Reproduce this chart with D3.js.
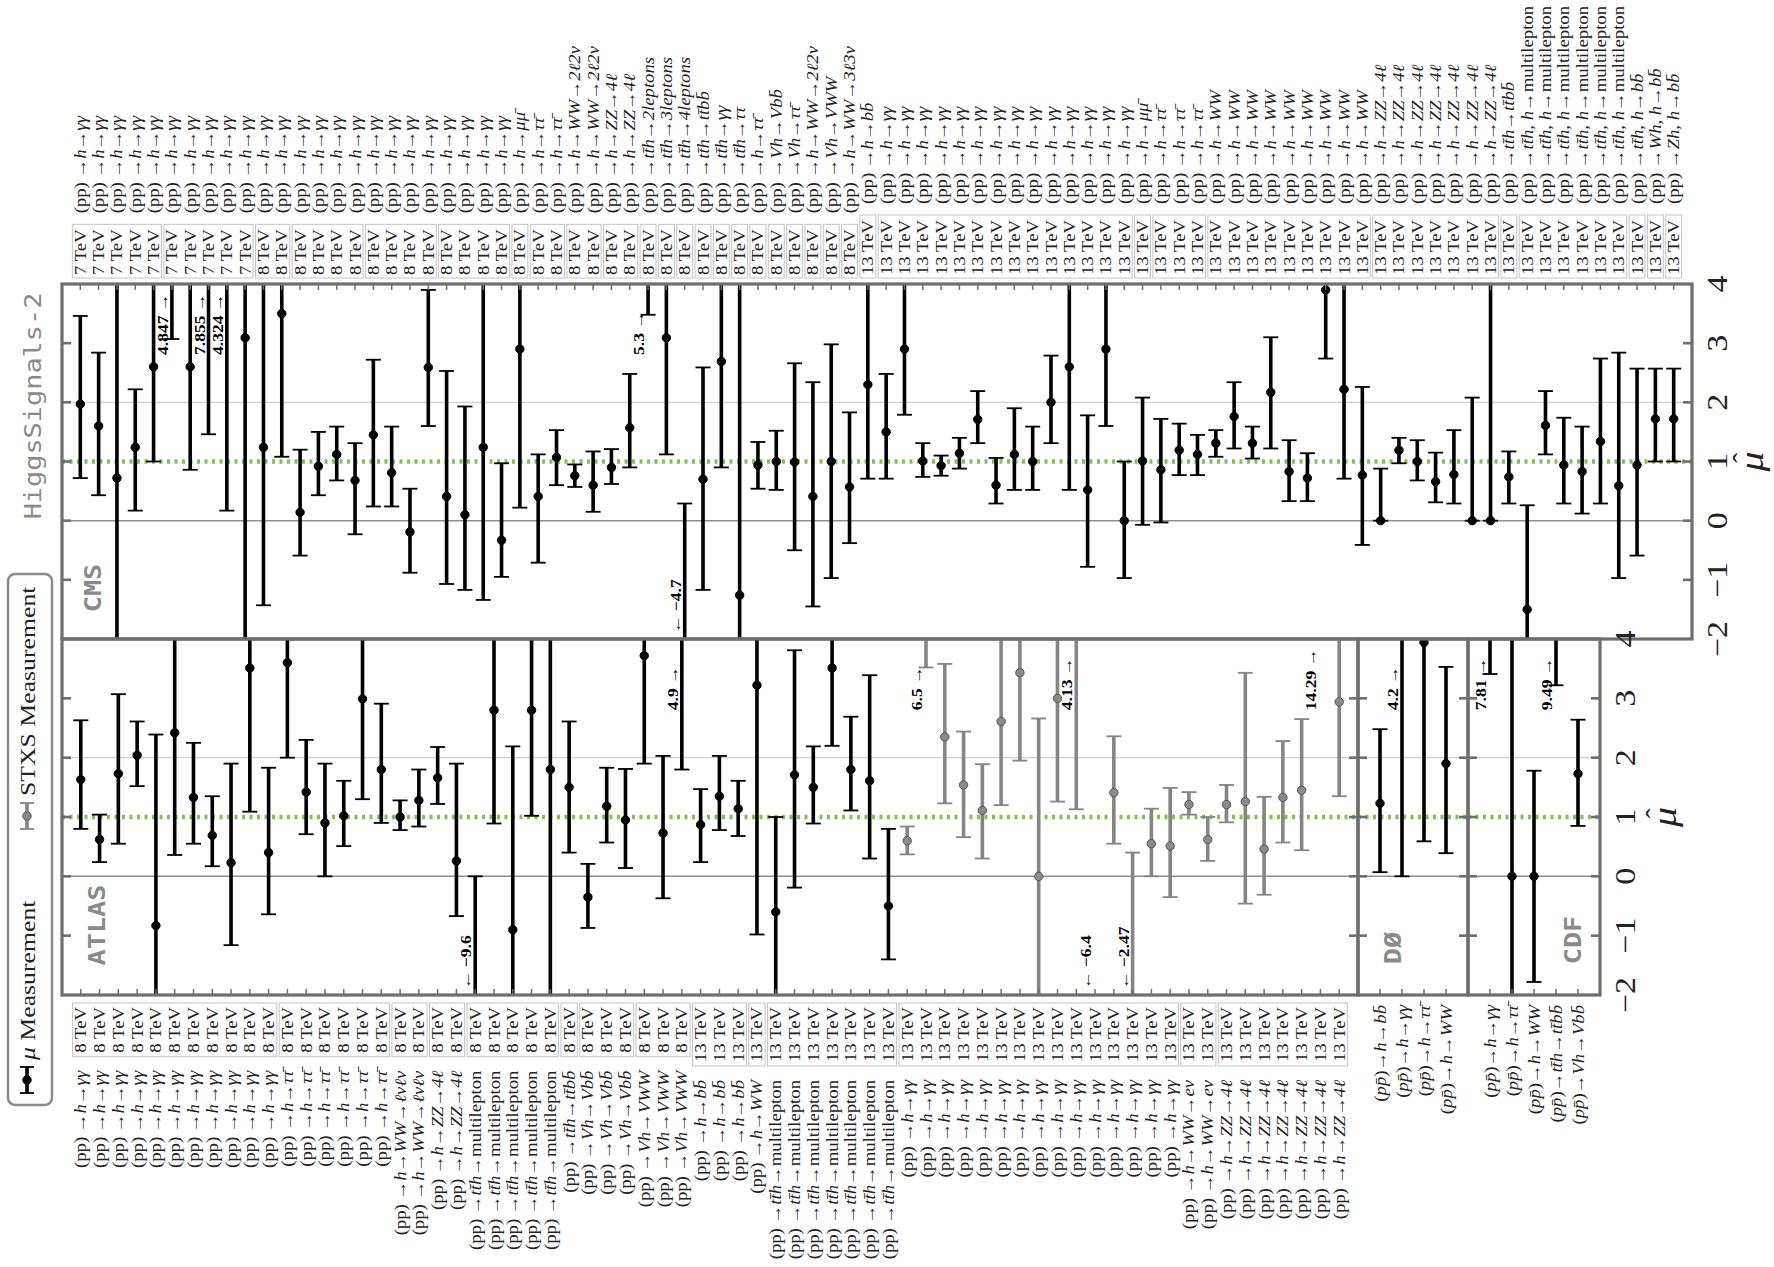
<!DOCTYPE html>
<html>
<head>
<meta charset="utf-8">
<script src="https://cdn.jsdelivr.net/npm/d3@7"></script>
<style>
  body { margin: 0; background: #fff; }
  svg { display: block; }
</style>
</head>
<body>
<svg id="chart" width="1774" height="1267"></svg>
<script>
const rep = (s, n) => Array(n).fill(s);

// ---- CMS (top panel) ----
const cmsEnergy = [...rep("7 TeV", 10), ...rep("8 TeV", 33), ...rep("13 TeV", 45)];
const cmsProcess = [
  ...rep("h→γγ", 24), "h→μμ̄", ...rep("h→ττ̄", 2), ...rep("h→WW→2ℓ2ν", 2), ...rep("h→ZZ→4ℓ", 2),
  "tt̄h→2leptons", "tt̄h→3leptons", "tt̄h→4leptons", "tt̄h→tt̄bb̄", "tt̄h→γγ", "tt̄h→ττ",
  "h→ττ̄", "Vh→Vbb̄", "Vh→ττ̄", "h→WW→2ℓ2ν", "Vh→VWW", "h→WW→3ℓ3ν",
  "h→bb̄", ...rep("h→γγ", 14), "h→μμ̄", ...rep("h→ττ̄", 3), ...rep("h→WW", 9), ...rep("h→ZZ→4ℓ", 7),
  "tt̄h→tt̄bb̄", ...rep("tt̄h, h→multilepton", 6), "tt̄h, h→bb̄", "Wh, h→bb̄", "Zh, h→bb̄"
];
// extra bracket breaks inside runs of identical labels (first index of a new bracket)
const cmsBreaks = [5, 12, 16, 20];
const cmsMu = [1.97,1.6,0.72,1.24,2.6,4.847,2.6,7.855,4.324,3.09, 1.24,3.5,0.14,0.92,1.12,0.68,1.45,0.81,-0.19,2.59,
  0.41,0.1,1.24,-0.33,2.9,0.41,1.07,0.76,0.6,0.9, 1.57,5.3,3.09,-4.7,0.7,2.69,-1.26,0.94,1.0,0.99,
  0.41,1.0,0.57,2.3,1.5,2.9,1.01,0.93,1.14,1.71, 0.6,1.12,1.0,2.0,2.6,0.52,2.9,0.0,1.01,0.86,
  1.19,1.12,1.31,1.76,1.31,2.17,0.83,0.72,3.9,2.22, 0.77,0.0,1.19,1.0,0.66,0.78,0.0,0.0,0.74,-1.5,
  1.61,0.94,0.83,1.34,0.59,0.94,1.72,1.72];
const cmsLo = [0.72,0.43,-2.6,0.17,1.0,3.07,0.86,1.46,0.17,-2.5, -1.43,1.08,-0.59,0.43,0.68,-0.23,0.24,0.24,-0.88,1.6,
  -1.07,-1.17,-1.34,-0.95,0.22,-0.71,0.6,0.57,0.15,0.62, 0.9,3.48,1.12,-6,-1.17,0.9,-6,0.54,0.52,-0.5,
  -1.45,-0.97,-0.38,0.71,0.71,1.79,0.74,0.76,0.88,1.31, 0.29,0.52,0.52,1.31,0.52,-0.78,1.6,-0.97,-0.07,-0.03,
  0.77,0.77,1.08,1.22,1.05,1.22,0.33,0.33,2.74,0.71, -0.41,0.0,0.97,0.68,0.31,0.29,0.0,0.0,0.29,-2.6,
  1.12,0.29,0.12,0.29,-0.97,-0.59,1.0,1.0];
const cmsHi = [3.46,2.84,4.5,2.22,4.4,6.5,4.6,11,7,5, 4.5,4.4,1.2,1.5,1.59,1.31,2.72,1.59,0.54,3.9,
  2.53,1.93,4.3,0.97,4.5,1.12,1.53,0.95,1.17,1.21, 2.48,7.4,5.4,0.29,2.59,5.3,5,1.33,1.52,2.66,
  2.34,2.98,1.83,4.2,2.48,4.1,1.31,1.1,1.4,2.19, 1.06,1.9,1.59,2.79,4.5,1.78,4.4,1.0,2.08,1.72,
  1.64,1.45,1.53,2.34,1.59,3.1,1.36,1.14,5,4.4, 2.26,0.88,1.4,1.36,1.15,1.53,2.08,4.8,1.17,0.26,
  2.19,1.74,1.59,2.74,2.84,2.57,2.57,2.57];

// ---- ATLAS (bottom left panel) ----
const atlasEnergy = [...rep("8 TeV", 33), ...rep("13 TeV", 35)];
const atlasProcess = [
  ...rep("h→γγ", 11), ...rep("h→ττ̄", 6), ...rep("h→WW→ℓνℓν", 2), ...rep("h→ZZ→4ℓ", 2),
  ...rep("tt̄h→multilepton", 5), "tt̄h→tt̄bb̄", ...rep("Vh→Vbb̄", 3), ...rep("Vh→VWW", 3),
  ...rep("h→bb̄", 3), "h→WW", ...rep("tt̄h→multilepton", 7), ...rep("h→γγ", 15),
  ...rep("h→WW→eν", 2), ...rep("h→ZZ→4ℓ", 7)
];
const atlasBreaks = [];
const atlasStxs = [...rep(0, 44), ...rep(1, 24)];
const atlasMu = [1.63,0.62,1.73,2.04,-0.83,2.42,1.33,0.69,0.23,3.51, 0.4,3.6,1.42,0.9,1.02,2.99,1.8,1.0,1.28,1.66,
  0.26,-9.6,2.8,-0.9,2.8,1.8,1.5,-0.35,1.18,0.95, 3.72,0.73,4.9,0.87,1.35,1.14,3.22,-0.6,1.71,1.5,
  3.51,1.8,1.61,-0.5,0.6,6.5,2.35,1.54,1.11,2.61, 3.43,0.0,3.0,4.13,-6.4,1.41,-2.47,0.55,0.51,1.21,
  0.62,1.21,1.26,0.46,1.33,1.45,14.29,2.94];
const atlasLo = [0.8,0.24,0.55,1.52,-2.6,0.36,0.55,0.17,-1.16,1.09, -0.64,2.0,0.71,0.0,0.51,1.3,0.9,0.78,0.84,1.22,
  -0.67,-16,0.89,-2.7,1.02,-2.8,0.4,-0.87,0.57,0.14, 1.9,-0.37,1.8,0.24,0.78,0.68,-0.98,-2.6,-0.19,0.89,
  2.2,1.11,0.3,-1.4,0.37,3.52,1.23,0.66,0.3,1.2, 1.95,-2.5,1.26,1.13,-9,0.55,-5,0.0,-0.35,1.04,
  0.26,0.91,-0.46,-0.31,0.57,0.44,6,1.35];
const atlasHi = [2.63,1.04,3.07,2.61,2.39,4.5,2.25,1.35,1.9,5.5, 1.83,5,2.3,1.9,1.61,4.6,2.91,1.28,1.8,2.18,
  1.9,0.0,4.6,2.19,4.6,4.5,2.61,0.21,1.83,1.81, 5.5,2.03,8,1.47,2.03,1.61,5.4,1.0,3.81,2.19,
  4.8,2.69,3.39,0.8,0.84,9.5,3.58,2.44,1.89,4.1, 4.9,2.66,4.8,7,-3,2.36,0.4,1.14,1.49,1.42,
  1.0,1.54,3.43,1.34,2.28,2.65,22,4.5];

// ---- Tevatron ----
const d0Process = ["h→bb̄", "h→γγ", "h→ττ̄", "h→WW"];
const d0Mu = [1.23, 4.2, 3.94, 1.9];
const d0Lo = [0.07, 0.0, 0.59, 0.39];
const d0Hi = [2.48, 8.0, 5.0, 3.53];
const cdfProcess = ["h→γγ", "h→ττ̄", "h→WW", "tt̄h→tt̄bb̄", "Vh→Vbb̄"];
const cdfMu = [7.81, 0.0, 0.0, 9.49, 1.73];
const cdfLo = [3.41, -2.6, -1.78, 3.22, 0.85];
const cdfHi = [12, 4.5, 1.78, 16, 2.64];

const muTicks = [-2, -1, 0, 1, 2, 3, 4];

// ---------------------------------------------------------------
const TS = 1.17;           // the original figure is stretched along the text direction
const SERIF = "'Liberation Serif', 'DejaVu Serif', serif";
const MONO = "'DejaVu Sans Mono', 'Liberation Mono', monospace";
const FRAME = "#6e6e6e";
const minus = v => String(v).replace("-", "−");

const svg = d3.select("#chart");
const yTop = d3.scaleLinear().domain([-2, 4]).range([639, 284]);
const yBot = d3.scaleLinear().domain([-2, 4]).range([995, 639]);

function rot(sel, x, y) {
  return sel.attr("transform", `translate(${x},${y}) rotate(-90) scale(${TS},1)`);
}

function addLabel(g, x, y, anchor, lhc, proc) {
  const t = rot(g.append("text"), x, y)
    .attr("text-anchor", anchor).attr("dominant-baseline", "central")
    .style("font-family", SERIF).style("font-size", "16px").attr("fill", "#222");
  if (lhc) {
    t.append("tspan").text("(pp) →");
  } else {
    t.append("tspan").text("(");
    t.append("tspan").style("font-style", "italic").text("pp̄");
    t.append("tspan").text(")→");
  }
  proc.split(/(multilepton)/).filter(s => s).forEach(s => {
    t.append("tspan").style("font-style", s === "multilepton" ? "normal" : "italic").text(s);
  });
  return t;
}

const panels = [
  { name: "CMS", x0: 62, x1: 1692, y: yTop, mu: cmsMu, lo: cmsLo, hi: cmsHi, energy: cmsEnergy, proc: cmsProcess,
    breaks: cmsBreaks, side: "top", tag: [93, 588] },
  { name: "ATLAS", x0: 62, x1: 1358, y: yBot, mu: atlasMu, lo: atlasLo, hi: atlasHi, energy: atlasEnergy, proc: atlasProcess,
    breaks: atlasBreaks, stxs: atlasStxs, side: "bottom", tag: [97, 925] },
  { name: "DØ", x0: 1358, x1: 1468, y: yBot, mu: d0Mu, lo: d0Lo, hi: d0Hi, proc: d0Process,
    side: "bottom", tag: [1393, 948] },
  { name: "CDF", x0: 1468, x1: 1600, y: yBot, mu: cdfMu, lo: cdfLo, hi: cdfHi, proc: cdfProcess,
    side: "bottom", tag: [1573, 940] }
];

panels.forEach((p, pi) => {
  const n = p.mu.length;
  const x = d3.scaleLinear().domain([0, n + 1]).range([p.x0, p.x1]);
  const y = p.y;
  const [yb, yt] = y.range();
  const step = x(1) - x(0);
  const g = svg.append("g");

  const clipId = "clip" + pi;
  svg.append("clipPath").attr("id", clipId)
    .append("rect").attr("x", p.x0).attr("y", yt).attr("width", p.x1 - p.x0).attr("height", yb - yt);
  const inner = g.append("g").attr("clip-path", `url(#${clipId})`);

  // reference lines
  inner.append("line").attr("x1", p.x0).attr("x2", p.x1).attr("y1", y(2)).attr("y2", y(2))
    .attr("stroke", "#cfcfcf").attr("stroke-width", 1.3);
  inner.append("line").attr("x1", p.x0).attr("x2", p.x1).attr("y1", y(0)).attr("y2", y(0))
    .attr("stroke", "#8f8f8f").attr("stroke-width", 1.5);
  inner.append("line").attr("x1", p.x0).attr("x2", p.x1).attr("y1", y(1)).attr("y2", y(1))
    .attr("stroke", "#84c052").attr("stroke-width", 4.5).attr("stroke-dasharray", "3,4.5");

  const idx = d3.range(n);
  const col = i => (p.stxs && p.stxs[i]) ? "#858585" : "#000";

  // error bars
  inner.selectAll(".bar").data(idx).join("line").attr("class", "bar")
    .attr("x1", i => x(i + 1)).attr("x2", i => x(i + 1))
    .attr("y1", i => y(p.lo[i])).attr("y2", i => y(p.hi[i]))
    .attr("stroke", col).attr("stroke-width", 3.6);
  ["lo", "hi"].forEach(k => {
    inner.selectAll(".cap-" + k).data(idx).join("line").attr("class", "cap-" + k)
      .attr("x1", i => x(i + 1) - 7.5).attr("x2", i => x(i + 1) + 7.5)
      .attr("y1", i => y(p[k][i])).attr("y2", i => y(p[k][i]))
      .attr("stroke", col).attr("stroke-width", 1.8);
  });
  inner.selectAll(".dot").data(idx.filter(i => p.mu[i] >= -2 && p.mu[i] <= 4)).join("circle").attr("class", "dot")
    .attr("cx", i => x(i + 1)).attr("cy", i => y(p.mu[i])).attr("r", 4.2)
    .attr("fill", i => (p.stxs && p.stxs[i]) ? "#8a8a8a" : "#000")
    .attr("stroke", i => (p.stxs && p.stxs[i]) ? "#555" : "#000").attr("stroke-width", 1);

  // frame
  g.append("rect").attr("x", p.x0).attr("y", yt).attr("width", p.x1 - p.x0).attr("height", yb - yt)
    .attr("fill", "none").attr("stroke", FRAME).attr("stroke-width", 3.2);

  // mu ticks on both vertical borders
  muTicks.slice(1, -1).forEach(t => {
    g.append("line").attr("x1", p.x0).attr("x2", p.x0 + 9).attr("y1", y(t)).attr("y2", y(t))
      .attr("stroke", FRAME).attr("stroke-width", 2.6);
    g.append("line").attr("x1", p.x1 - 9).attr("x2", p.x1).attr("y1", y(t)).attr("y2", y(t))
      .attr("stroke", FRAME).attr("stroke-width", 2.6);
  });

  // category ticks on the label side
  const ty = p.side === "top" ? yt : yb;
  const dir = p.side === "top" ? 1 : -1;
  g.selectAll(".ctick").data(idx).join("line").attr("class", "ctick")
    .attr("x1", i => x(i + 1)).attr("x2", i => x(i + 1))
    .attr("y1", ty).attr("y2", ty + dir * 6).attr("stroke", FRAME).attr("stroke-width", 1.5);

  // off-scale values
  idx.forEach(i => {
    const v = p.mu[i];
    if (v <= 4 && v >= -2) return;
    const hiSide = v > 4;
    rot(g.append("text"), x(i + 1) - 9, hiSide ? y(2.8) : y(-1.9))
      .attr("text-anchor", "start").attr("dominant-baseline", "central")
      .style("font-family", SERIF).style("font-size", "15px").style("font-weight", "bold")
      .text(hiSide ? `${minus(v)} →` : `← ${minus(v)}`);
  });

  // panel name
  rot(g.append("text"), p.tag[0], p.tag[1])
    .attr("text-anchor", "middle").attr("dominant-baseline", "central")
    .style("font-family", MONO).style("font-size", "23px").style("font-weight", "bold")
    .attr("fill", "#8a8a8a").text(p.name);

  // category labels
  if (p.energy) {
    const base = p.side === "top" ? yt - 9 : yb + 12;
    const eLen = [];
    idx.forEach(i => {
      const t = rot(g.append("text"), x(i + 1), base)
        .attr("text-anchor", p.side === "top" ? "start" : "end").attr("dominant-baseline", "central")
        .style("font-family", SERIF).style("font-size", "16px").attr("fill", "#222").text(p.energy[i]);
      eLen[i] = t.node().getComputedTextLength() * TS;
    });
    // brackets around runs of the same energy and process
    const runs = [];
    idx.forEach(i => {
      const last = runs[runs.length - 1];
      if (last && p.energy[last.a] === p.energy[i] && p.proc[last.a] === p.proc[i] && !p.breaks.includes(i)) last.b = i;
      else runs.push({ a: i, b: i });
    });
    runs.forEach(r => {
      const len = d3.max(d3.range(r.a, r.b + 1), i => eLen[i]) + 5;
      const xa = x(r.a + 1) - step / 2 + 1.2, xb = x(r.b + 1) + step / 2 - 1.2;
      const ya = p.side === "top" ? yt - 6 : yb + 8;
      const yz = p.side === "top" ? ya - len - 3 : ya + len + 3;
      g.append("rect").attr("x", xa).attr("y", Math.min(ya, yz)).attr("width", xb - xa).attr("height", Math.abs(yz - ya))
        .attr("fill", "none").attr("stroke", "#c4c4c4").attr("stroke-width", 1);
    });
    idx.forEach(i => {
      if (p.side === "top") addLabel(g, x(i + 1), base - eLen[i] - 16, "start", true, p.proc[i]);
      else addLabel(g, x(i + 1), base + eLen[i] + 18, "end", true, p.proc[i]);
    });
  } else {
    idx.forEach(i => addLabel(g, x(i + 1), yb + 10, "end", false, p.proc[i]));
  }
});

// mu axis tick labels and titles
[[yTop, 1717, 1752], [yBot, 1625, 1665]].forEach(([y, tx, lx]) => {
  muTicks.forEach(t => {
    rot(svg.append("text"), tx, y(t)).attr("text-anchor", "middle").attr("dominant-baseline", "central")
      .style("font-family", SERIF).style("font-size", "29px").attr("fill", "#222").text(minus(t));
  });
  const tg = rot(svg.append("g"), lx, y(1));
  tg.append("text").attr("text-anchor", "middle").attr("dominant-baseline", "central")
    .style("font-family", SERIF).style("font-size", "34px").style("font-style", "italic").attr("fill", "#222").text("μ");
  tg.append("text").attr("x", 3).attr("y", -10).attr("text-anchor", "middle").attr("dominant-baseline", "central")
    .style("font-family", SERIF).style("font-size", "26px").attr("fill", "#222").text("ˆ");
});

// HiggsSignals-2 tag
rot(svg.append("text"), 33, 406).attr("text-anchor", "middle").attr("dominant-baseline", "central")
  .style("font-family", MONO).style("font-size", "23px").attr("fill", "#8a8a8a").text("HiggsSignals-2");

// legend
const lg = svg.append("g");
lg.append("rect").attr("x", 8).attr("y", 574).attr("width", 44).attr("height", 531).attr("rx", 7)
  .attr("fill", "#fff").attr("stroke", "#8a8a8a").attr("stroke-width", 2.5);
[{ y: 1080, col: "#000", dot: "#000", ty: 1060, label: "Measurement", mu: true },
 { y: 816, col: "#858585", dot: "#8a8a8a", ty: 796, label: "STXS Measurement", mu: false }].forEach(e => {
  lg.append("line").attr("x1", 27).attr("x2", 27).attr("y1", e.y - 13).attr("y2", e.y + 13)
    .attr("stroke", e.col).attr("stroke-width", 3.6);
  [e.y - 13, e.y + 13].forEach(c => lg.append("line").attr("x1", 20).attr("x2", 34).attr("y1", c).attr("y2", c)
    .attr("stroke", e.col).attr("stroke-width", 1.8));
  lg.append("circle").attr("cx", 27).attr("cy", e.y).attr("r", 4.2).attr("fill", e.dot).attr("stroke", e.mu ? "#000" : "#555");
  const t = rot(lg.append("text"), 28, e.ty).attr("text-anchor", "start").attr("dominant-baseline", "central")
    .style("font-family", SERIF).style("font-size", "22px").attr("fill", "#222");
  if (e.mu) { t.append("tspan").style("font-style", "italic").text("μ "); }
  t.append("tspan").text(e.label);
});
</script>
</body>
</html>
